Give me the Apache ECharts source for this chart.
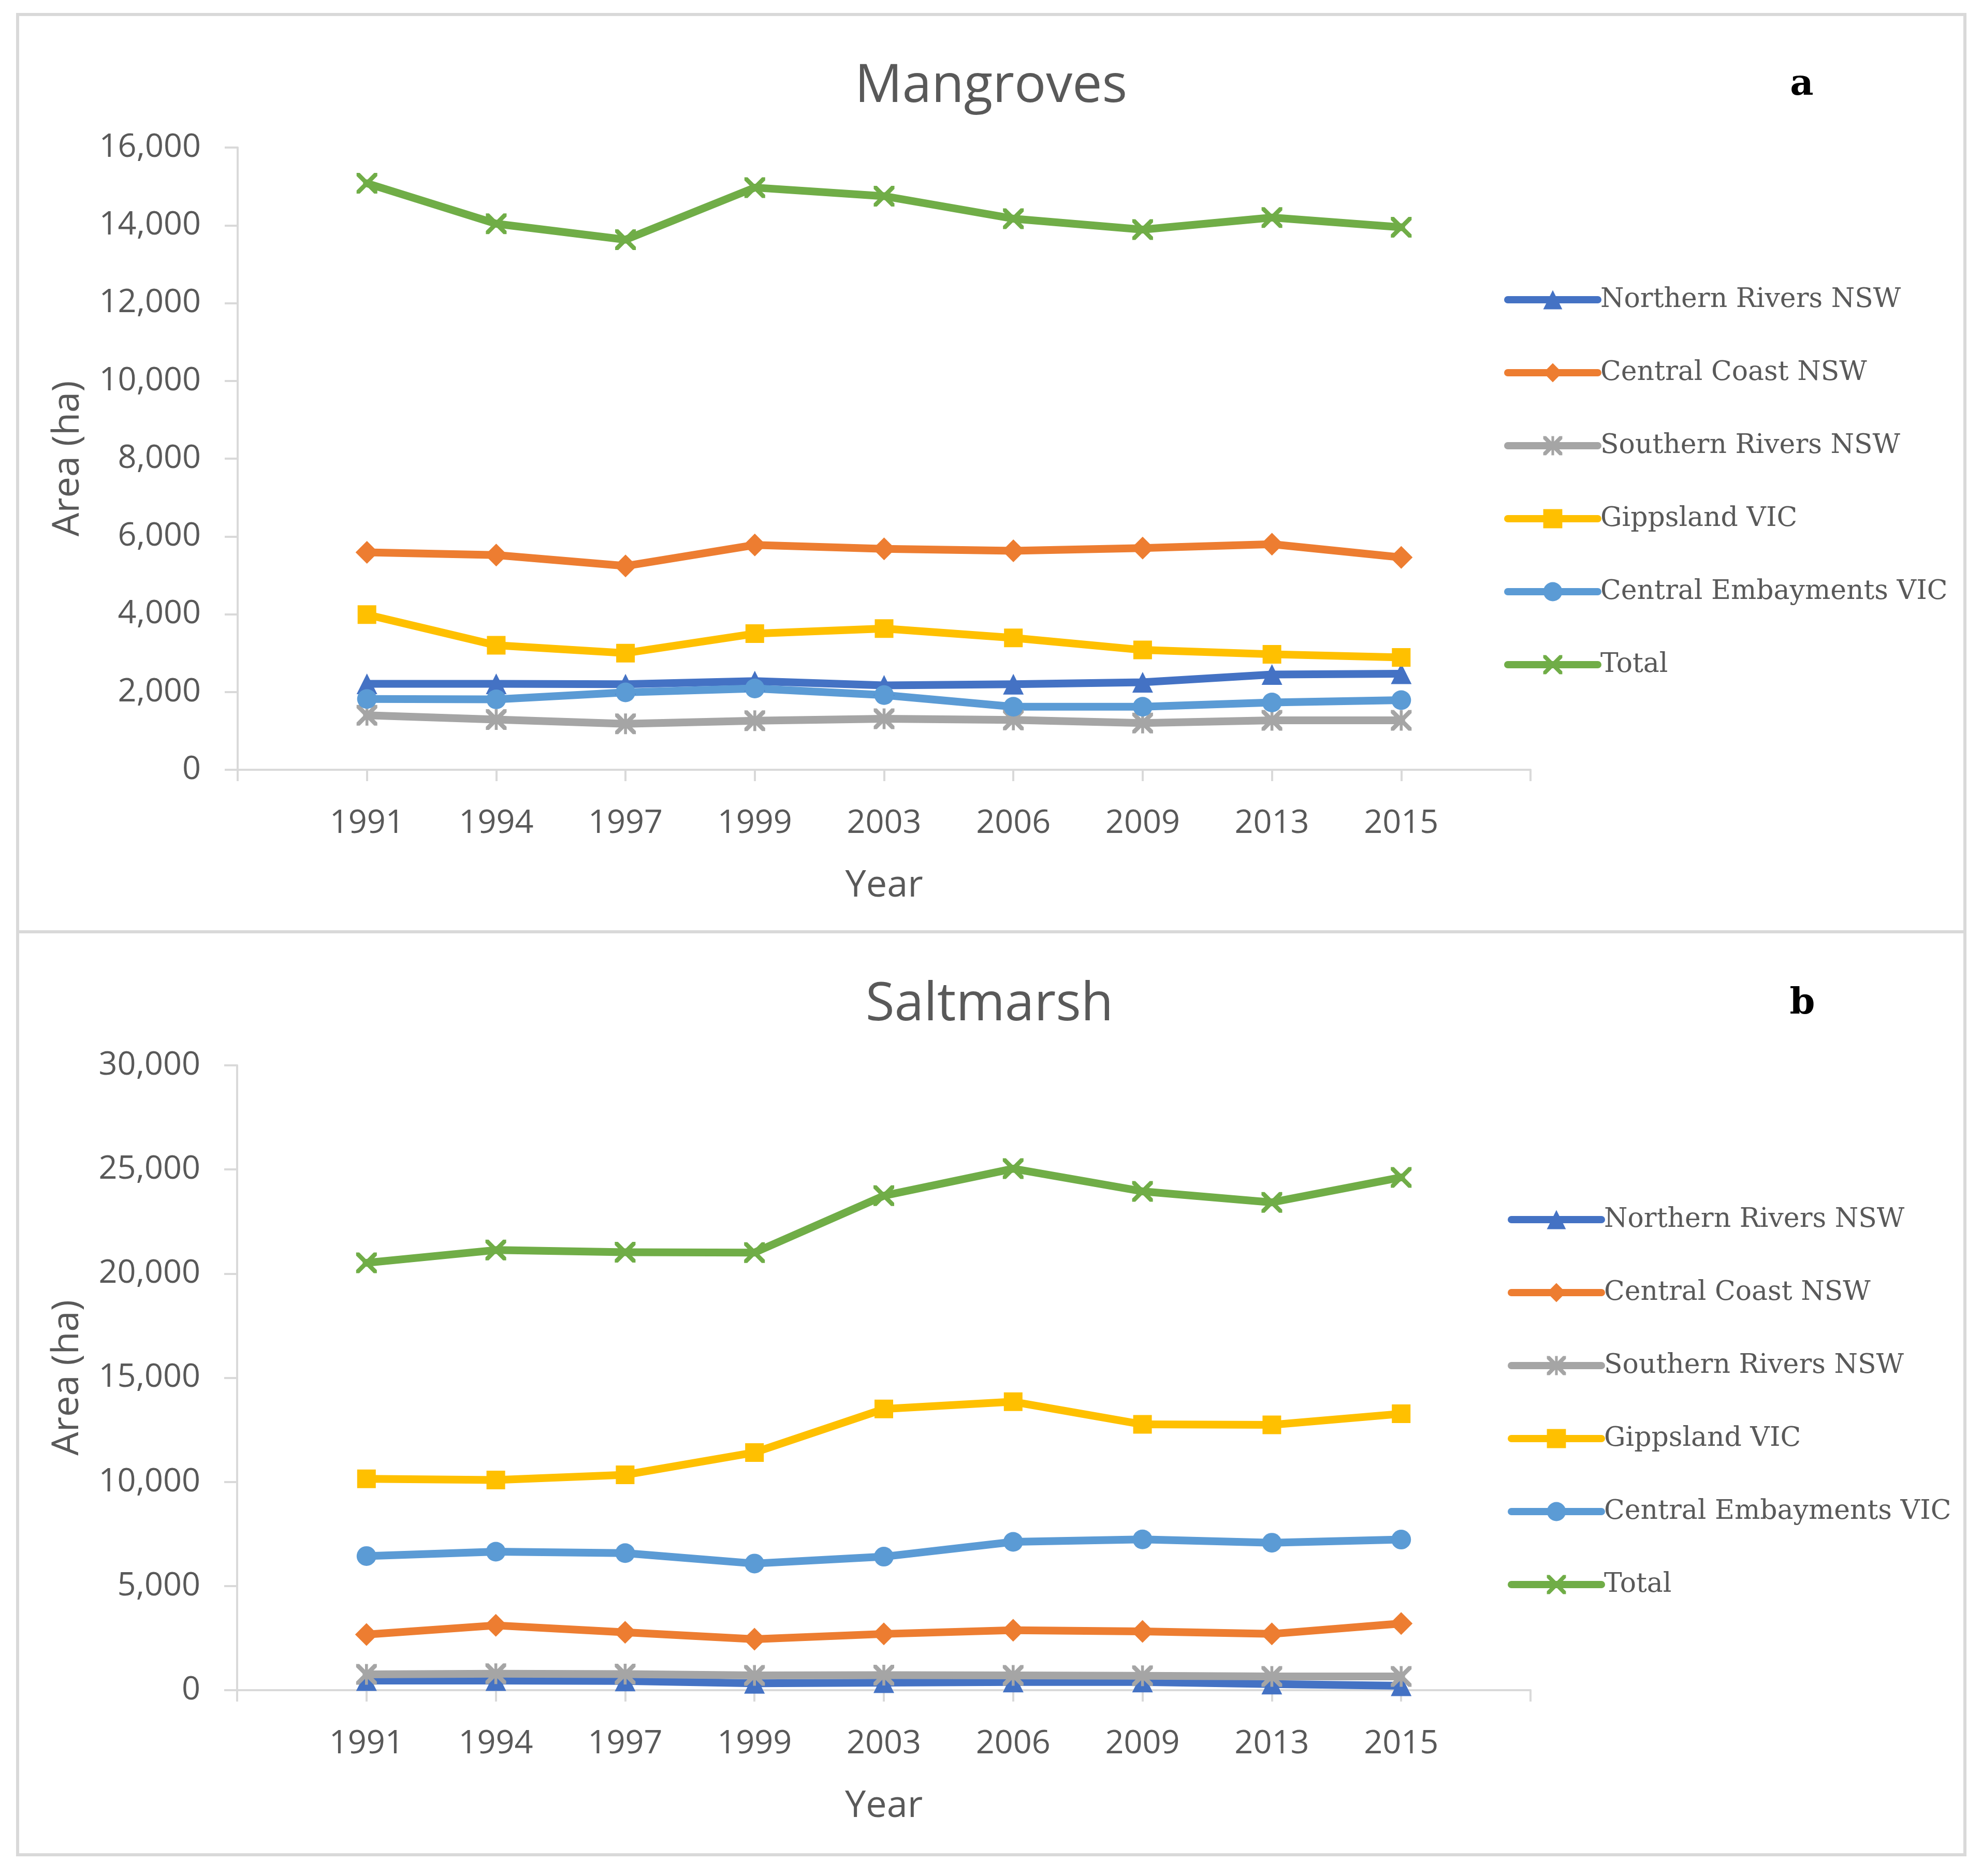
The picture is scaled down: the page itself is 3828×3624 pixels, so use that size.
<!DOCTYPE html>
<html><head><meta charset="utf-8">
<script src="https://cdn.jsdelivr.net/npm/echarts@6/dist/echarts.min.js"></script>
<style>html,body{margin:0;padding:0;background:#fff}#c{width:3828px;height:3624px}</style>
</head><body><div id="c"></div>
<script>
// ---- data ----
const years = ['1991', '1994', '1997', '1999', '2003', '2006', '2009', '2013', '2015'];
const seriesNames = ['Northern Rivers NSW', 'Central Coast NSW', 'Southern Rivers NSW', 'Gippsland VIC', 'Central Embayments VIC', 'Total'];

// Mangroves (ha)
const mgNorthernRivers = [2210, 2210, 2200, 2280, 2170, 2200, 2250, 2450, 2470];
const mgCentralCoast = [5590, 5520, 5240, 5780, 5680, 5630, 5700, 5800, 5460];
const mgSouthernRivers = [1400, 1290, 1180, 1260, 1310, 1280, 1200, 1270, 1270];
const mgGippsland = [3990, 3200, 3000, 3500, 3630, 3390, 3080, 2970, 2890];
const mgCentralEmbayments = [1820, 1810, 1990, 2090, 1920, 1620, 1620, 1730, 1790];
const mgTotal = [15080, 14040, 13630, 14970, 14750, 14170, 13890, 14200, 13950];

// Saltmarsh (ha)
const smNorthernRivers = [460, 460, 440, 330, 360, 390, 390, 290, 210];
const smCentralCoast = [2670, 3110, 2780, 2450, 2700, 2880, 2820, 2700, 3200];
const smSouthernRivers = [760, 790, 770, 710, 720, 710, 690, 660, 660];
const smGippsland = [10150, 10090, 10340, 11410, 13500, 13850, 12760, 12740, 13270];
const smCentralEmbayments = [6440, 6650, 6580, 6080, 6410, 7120, 7240, 7080, 7230];
const smTotal = [20520, 21130, 21030, 21010, 23740, 25040, 23950, 23420, 24620];

const mgTicks = {min: 0, max: 16000, interval: 2000};
const smTicks = {min: 0, max: 30000, interval: 5000};

// ---- styling ----
const colors = ['#4472C4', '#ED7D31', '#A5A5A5', '#FFC000', '#5B9BD5', '#70AD47'];
const X_PATH = 'path://M0,0L3,0L10,7L17,0L20,0L20,3L13,10L20,17L20,20L17,20L10,13L3,20L0,20L0,17L7,10L0,3Z';
const STAR_PATH = X_PATH + 'M8.6,0L11.4,0L11.4,20L8.6,20Z';
const symbols = ['triangle', 'diamond', STAR_PATH, 'rect', 'circle', X_PATH];
const symbolSizes = [40, 44, 40, 36, 38, 40];
const AXIS_C = '#d9d9d9';
const TEXT_C = '#595959';
const SANS = '"Open Sans", "Noto Sans", sans-serif';
const SERIF = '"DejaVu Serif", serif';

// categories padded with an empty slot on either side (Excel-style axis)
const cats = [''].concat(years, ['']);
const pad = a => [null].concat(a, [null]);

const mgData = [mgNorthernRivers, mgCentralCoast, mgSouthernRivers, mgGippsland, mgCentralEmbayments, mgTotal];
const smData = [smNorthernRivers, smCentralCoast, smSouthernRivers, smGippsland, smCentralEmbayments, smTotal];

function mkSeries(dataSets, gi) {
  return dataSets.map((d, i) => ({
    type: 'line', name: seriesNames[i], xAxisIndex: gi, yAxisIndex: gi,
    data: pad(d), connectNulls: false,
    symbol: symbols[i], symbolSize: symbolSizes[i], showAllSymbol: true,
    lineStyle: {color: colors[i], width: 15, cap: 'round', join: 'round'},
    itemStyle: {color: colors[i], borderWidth: 0},
    emphasis: {disabled: true}, animation: false
  }));
}

function xAx(gi) {
  return {
    type: 'category', gridIndex: gi, data: cats, boundaryGap: false,
    name: 'Year', nameLocation: 'middle', nameGap: 188,
    nameTextStyle: {fontFamily: SANS, fontSize: 72, color: TEXT_C},
    axisLine: {show: true, lineStyle: {color: AXIS_C, width: 4}},
    axisTick: {show: true, interval: 0, length: 22, lineStyle: {color: AXIS_C, width: 4}},
    axisLabel: {interval: 0, margin: 73, fontFamily: SANS, fontSize: 63, color: TEXT_C},
    splitLine: {show: false}
  };
}
function yAx(gi, t) {
  return {
    type: 'value', gridIndex: gi, min: t.min, max: t.max, interval: t.interval,
    name: 'Area (ha)', nameLocation: 'middle', nameRotate: 90, nameGap: 292,
    nameTextStyle: {fontFamily: SANS, fontSize: 72, color: TEXT_C},
    axisLine: {show: true, lineStyle: {color: AXIS_C, width: 4}},
    axisTick: {show: true, length: 25, lineStyle: {color: AXIS_C, width: 4}},
    axisLabel: {margin: 71, fontFamily: SANS, fontSize: 63, color: TEXT_C,
      formatter: v => v.toLocaleString('en-US')},
    splitLine: {show: false}
  };
}
function legendAt(left, top) {
  return {
    orient: 'vertical', left: left, top: top, data: seriesNames,
    itemWidth: 174, itemHeight: 46, itemGap: 81, selectedMode: false,
    lineStyle: {width: 14, cap: 'round'},
    textStyle: {fontFamily: SERIF, fontSize: 52, color: TEXT_C, lineHeight: 60}
  };
}
function txt(x, y, s, font, fill) {
  return {type: 'text', x: x, y: y, silent: true,
    style: {text: s, font: font, fill: fill, align: 'center', verticalAlign: 'middle'}};
}

const chart = echarts.init(document.getElementById('c'), null, {renderer: 'canvas'});
chart.setOption({
  backgroundColor: '#ffffff',
  animation: false,
  grid: [
    {left: 459, top: 285, width: 2497, height: 1202, containLabel: false, outerBoundsMode: 'none'},
    {left: 458, top: 2058, width: 2498, height: 1207, containLabel: false, outerBoundsMode: 'none'}
  ],
  xAxis: [xAx(0), xAx(1)],
  yAxis: [yAx(0, mgTicks), yAx(1, smTicks)],
  legend: [legendAt(2900, 544), legendAt(2907, 2321)],
  series: mkSeries(mgData, 0).concat(mkSeries(smData, 1)),
  graphic: [
    {type: 'rect', silent: true, z: -10, shape: {x: 34, y: 28, width: 3761, height: 1772},
      style: {fill: 'none', stroke: AXIS_C, lineWidth: 6}},
    {type: 'rect', silent: true, z: -10, shape: {x: 34, y: 1800, width: 3761, height: 1783},
      style: {fill: 'none', stroke: AXIS_C, lineWidth: 6}},
    txt(1914, 168, 'Mangroves', '102px ' + SANS, TEXT_C),
    txt(1911, 1942, 'Saltmarsh', '102px ' + SANS, TEXT_C),
    txt(3480, 165, 'a', 'bold 70px ' + SERIF, '#000000'),
    txt(3481, 1940, 'b', 'bold 70px ' + SERIF, '#000000')
  ]
});
</script></body></html>
